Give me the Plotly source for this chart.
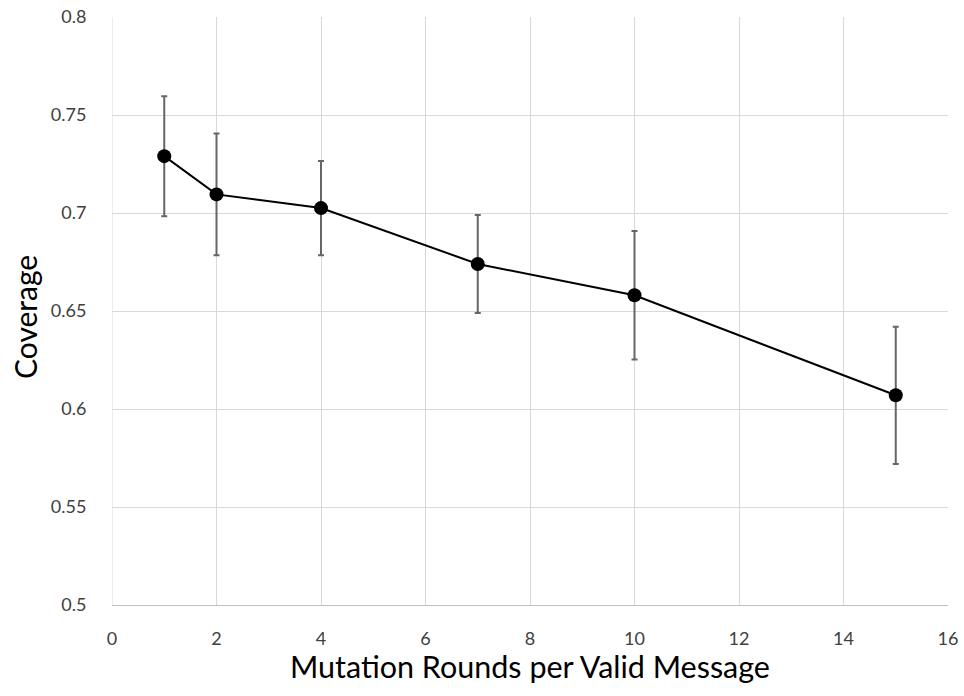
import plotly.graph_objects as go

rounds = [1, 2, 4, 7, 10, 15]
coverage = [0.729, 0.7095, 0.7025, 0.674, 0.658, 0.607]
err = [0.0306, 0.031, 0.024, 0.025, 0.0328, 0.035]

FONT = "Lato, 'Open Sans', sans-serif"

fig = go.Figure()
fig.add_trace(go.Scatter(
    x=rounds, y=coverage, mode="lines+markers",
    line=dict(color="black", width=2),
    marker=dict(color="black", size=14),
    error_y=dict(type="data", array=err, visible=True, color="#666666", thickness=2, width=3),
    showlegend=False,
))

fig.update_layout(
    width=964, height=696,
    margin=dict(l=112, r=16, t=17, b=91),
    plot_bgcolor="white", paper_bgcolor="white",
    font=dict(family=FONT, color="#404040"),
)
fig.update_xaxes(
    range=[0, 16], dtick=2, tick0=0, automargin=False,
    showgrid=True, gridcolor="#d9d9d9", gridwidth=1,
    showline=True, linecolor="#bfbfbf", linewidth=1,
    zeroline=False,
    ticks="outside", ticklen=17, tickcolor="rgba(0,0,0,0)",
    tickfont=dict(size=18, color="#404040", family=FONT),
)
fig.update_yaxes(
    range=[0.5, 0.8], dtick=0.05, tick0=0.5, automargin=False,
    showgrid=True, gridcolor="#d9d9d9", gridwidth=1,
    showline=False, zeroline=False,
    ticks="outside", ticklen=21, tickcolor="rgba(0,0,0,0)",
    tickfont=dict(size=18, color="#404040", family=FONT),
)
fig.add_shape(type="line", xref="x", yref="paper", x0=0, x1=0, y0=0, y1=1,
              line=dict(color="#d9d9d9", width=1))
fig.add_annotation(text="Mutation Rounds per Valid Message", xref="paper", yref="paper",
                   x=0.5, y=-0.104, xanchor="center", yanchor="middle", showarrow=False,
                   font=dict(size=30.5, color="black", family=FONT))
fig.add_annotation(text="Coverage", xref="paper", yref="paper", textangle=-90,
                   x=-0.104, y=0.49, xanchor="center", yanchor="middle", showarrow=False,
                   font=dict(size=30, color="black", family=FONT))

fig.write_html("out.html", config={"displayModeBar": False},
               post_script="document.body.style.margin='0';document.body.style.overflow='hidden';")
